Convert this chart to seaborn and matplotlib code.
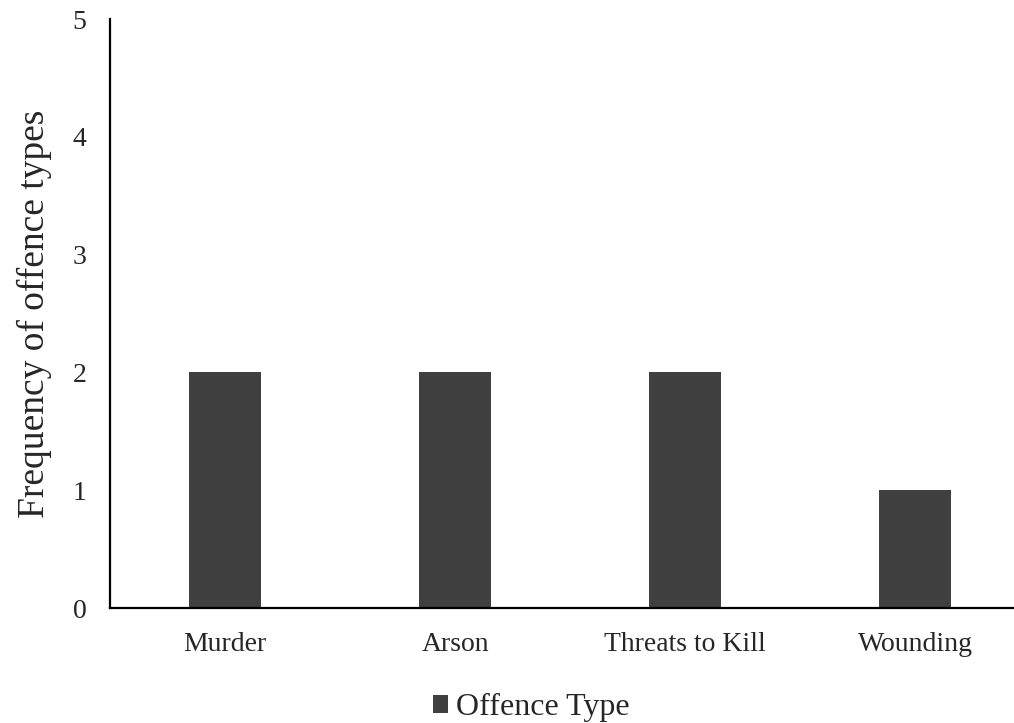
import matplotlib
matplotlib.use("Agg")
import matplotlib.pyplot as plt
import seaborn as sns
import pandas as pd
from matplotlib.patches import Patch

categories = ["Murder", "Arson", "Threats to Kill", "Wounding"]
frequencies = [2, 2, 2, 1]
series_name = "Offence Type"
y_ticks = [0, 1, 2, 3, 4, 5]

sns.set_style("white")
plt.rcParams["font.family"] = ["Liberation Serif", "DejaVu Serif"]

df = pd.DataFrame({"Offence": categories, "Frequency": frequencies})

fig = plt.figure(figsize=(10.14, 7.23), dpi=100)
ax = fig.add_axes([0.1085, 0.159, 0.8915, 0.8147])

bar_color = "#404040"
sns.barplot(data=df, x="Offence", y="Frequency", color=bar_color,
            width=0.31, saturation=1, ax=ax, edgecolor="none")

ax.set_xlim(-0.5, 3.43)
ax.set_ylim(0, 5)
ax.set_yticks(y_ticks)
ax.set_yticklabels([str(t) for t in y_ticks], fontsize=20)
ax.set_xticks(range(len(categories)))
ax.set_xticklabels(categories, fontsize=20)
ax.tick_params(axis="y", length=0, pad=17)
ax.tick_params(axis="x", length=0, pad=17)
ax.set_xlabel("")
ax.set_ylabel("Frequency of offence types", fontsize=27, labelpad=15)

for side in ["top", "right"]:
    ax.spines[side].set_visible(False)
for side in ["left", "bottom"]:
    ax.spines[side].set_color("black")
    ax.spines[side].set_linewidth(1.6)

handle = Patch(facecolor=bar_color, edgecolor="none")
fig.legend([handle], [series_name], loc="center", bbox_to_anchor=(0.524, 0.021),
           frameon=False, fontsize=23, handlelength=0.48, handleheight=0.48,
           handletextpad=0.25, borderpad=0, borderaxespad=0)

fig.savefig("out.png", dpi=100)
